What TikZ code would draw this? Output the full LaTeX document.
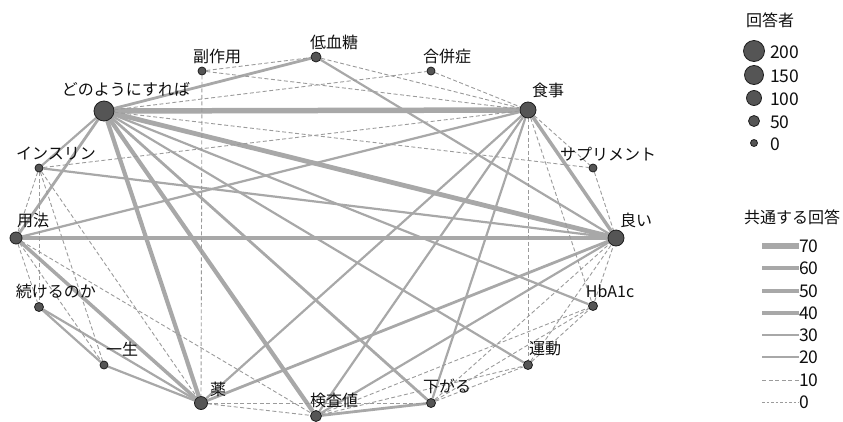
\documentclass[tikz,border=0pt]{standalone}
\usepackage{fontspec}
\setmainfont{Noto Sans CJK JP}
\usetikzlibrary{backgrounds}
\definecolor{edgegray}{RGB}{168,168,168}
\definecolor{dashgray}{RGB}{155,155,155}
\definecolor{nodefill}{RGB}{85,85,85}
\definecolor{nodeedge}{RGB}{30,30,30}
\definecolor{txt}{RGB}{15,15,15}
\begin{document}
\begin{tikzpicture}[x=1pt,y=-1pt,
  eg/.style={draw=edgegray, line cap=butt},
  w70/.style={eg, line width=5.5pt},
  w60/.style={eg, line width=4.8pt},
  w50/.style={eg, line width=4.2pt},
  w40/.style={eg, line width=3.5pt},
  w30/.style={eg, line width=2.8pt},
  w20/.style={eg, line width=2.2pt},
  w10/.style={draw=dashgray, line width=0.9pt, dash pattern=on 4pt off 2.5pt},
  w0/.style={draw=dashgray, line width=0.7pt, dash pattern=on 2.5pt off 2pt},
  vtx/.style={circle, draw=nodeedge, line width=0.8pt, fill=nodefill, inner sep=0pt, minimum size=#1},
  lbl/.style={font=\fontsize{16}{16}\selectfont, inner sep=0pt, text=txt},
  num/.style={font=\fontsize{17.5}{17.5}\selectfont, inner sep=0pt, text=txt, anchor=west}
]
\useasboundingbox (0,0) rectangle (843,421);

% vertices
\node[vtx=20pt] (A) at (104,111) {};
\node[vtx=8pt]  (B) at (202,71) {};
\node[vtx=10pt] (C) at (316,57) {};
\node[vtx=8pt]  (D) at (431,71) {};
\node[vtx=16pt] (E) at (528,110) {};
\node[vtx=8pt]  (F) at (593,168) {};
\node[vtx=16pt] (G) at (616,238) {};
\node[vtx=9pt]  (H) at (593,306) {};
\node[vtx=9pt]  (I) at (528,365) {};
\node[vtx=9pt]  (J) at (431,403) {};
\node[vtx=11pt] (K) at (316,416) {};
\node[vtx=13pt] (L) at (201,403) {};
\node[vtx=8pt]  (M) at (104,365) {};
\node[vtx=9pt]  (N) at (39,307) {};
\node[vtx=12pt] (O) at (16,238) {};
\node[vtx=8pt]  (P) at (39,168) {};

% labels
\node[lbl] (tA) at (126,89) {どのようにすれば};
\node[lbl] (tB) at (217,56) {副作用};
\node[lbl] (tC) at (334,42) {低血糖};
\node[lbl] (tD) at (447,56) {合併症};
\node[lbl] (tE) at (548,90) {食事};
\node[lbl] (tF) at (608,154) {サプリメント};
\node[lbl] (tG) at (636,220) {良い};
\node[lbl] (tH) at (610,291) {HbA1c};
\node[lbl] (tI) at (545,349) {運動};
\node[lbl] (tJ) at (447,386) {下がる};
\node[lbl] (tK) at (334,400) {検査値};
\node[lbl] (tL) at (218,389) {薬};
\node[lbl] (tM) at (122,349) {一生};
\node[lbl] (tN) at (56,291) {続けるのか};
\node[lbl] (tO) at (33,220) {用法};
\node[lbl] (tP) at (56,154) {インスリン};

\begin{scope}[on background layer]
% solid edges
\draw[w70] (A) -- (E);
\draw[w60] (A) -- (G);
\draw[w50] (A) -- (L);
\draw[w50] (A) -- (K);
\draw[w40] (E) -- (G);
\draw[w40] (O) -- (G);
\draw[w40] (O) -- (L);
\draw[w30] (A) -- (J);
\draw[w30] (A) -- (O);
\draw[w30] (A) -- (C);
\draw[w30] (K) -- (J);
\draw[w30] (L) -- (G);
\draw[w20] (E) -- (L);
\draw[w20] (E) -- (K);
\draw[w20] (E) -- (J);
\draw[w20] (A) -- (H);
\draw[w20] (A) -- (I);
\draw[w20] (A) -- (P);
\draw[w20] (C) -- (G);
\draw[w20] (P) -- (G);
\draw[w20] (O) -- (E);
\draw[w20] (K) -- (G);
\draw[w20] (N) -- (M);
\draw[w20] (N) -- (L);
\draw[w20] (M) -- (L);
% dashed edges
\draw[w10] (B) -- (C);
\draw[w10] (B) -- (E);
\draw[w10] (B) -- (L);
\draw[w10] (A) -- (D);
\draw[w10] (D) -- (E);
\draw[w10] (C) -- (E);
\draw[w10] (A) -- (F);
\draw[w10] (E) -- (F);
\draw[w10] (F) -- (G);
\draw[w10] (P) -- (E);
\draw[w10] (P) -- (O);
\draw[w10] (P) -- (N);
\draw[w10] (P) -- (M);
\draw[w10] (P) -- (L);
\draw[w10] (O) -- (N);
\draw[w10] (O) -- (M);
\draw[w10] (O) -- (K);
\draw[w10] (E) -- (I);
\draw[w10] (E) -- (H);
\draw[w10] (H) -- (G);
\draw[w10] (I) -- (G);
\draw[w10] (J) -- (G);
\draw[w10] (I) -- (H);
\draw[w10] (J) -- (H);
\draw[w10] (K) -- (H);
\draw[w10] (K) -- (I);
\draw[w10] (J) -- (I);
\draw[w10] (L) -- (J);
\draw[w10] (L) -- (K);
\end{scope}

% legend: respondents
\node[lbl] (lt1) at (770,20) {回答者};
\node[vtx=21pt] (s200) at (754,51) {};
\node[vtx=19pt] (s150) at (754,75) {};
\node[vtx=15pt] (s100) at (754,98) {};
\node[vtx=11pt] (s50) at (754,121) {};
\node[vtx=7pt]  (s0) at (754,143) {};
\node[num] (n200) at (770,52) {200};
\node[num] (n150) at (770,76) {150};
\node[num] (n100) at (770,99) {100};
\node[num] (n50) at (770,122) {50};
\node[num] (n0) at (770,144) {0};

% legend: common answers
\node[lbl] (lt2) at (792,217) {共通する回答};
\foreach \v/\y in {70/246,60/268,50/291,40/313,30/335,20/357,10/380,0/402}{
  \coordinate (la\v) at (762,\y);
  \node[num] (lb\v) at (799,\y) {\v};
  \draw[w\v] (la\v) -- (lb\v.west);
}
\end{tikzpicture}
\end{document}
